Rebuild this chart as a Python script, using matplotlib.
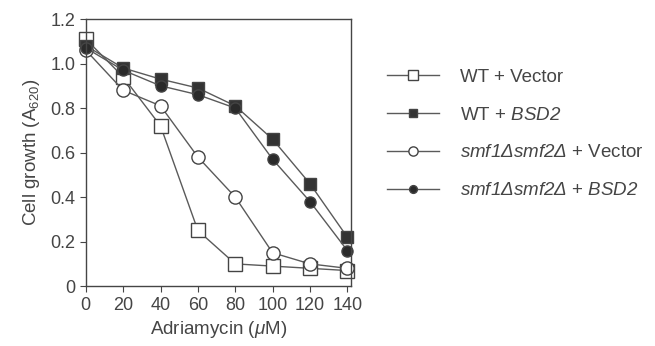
"""Cell growth vs adriamycin concentration for four strains."""

import matplotlib.pyplot as plt

plt.rcParams["font.family"] = ["Liberation Sans", "DejaVu Sans"]
plt.rcParams["mathtext.fontset"] = "custom"
plt.rcParams["mathtext.rm"] = "Liberation Sans:italic"
plt.rcParams["mathtext.it"] = "Liberation Sans:italic"
plt.rcParams["mathtext.sf"] = "Liberation Sans"

adriamycin = [0, 20, 40, 60, 80, 100, 120, 140]

wt_vector = [1.11, 0.94, 0.72, 0.25, 0.10, 0.09, 0.08, 0.07]
wt_bsd2 = [1.08, 0.98, 0.93, 0.89, 0.81, 0.66, 0.46, 0.22]
smf_vector = [1.06, 0.88, 0.81, 0.58, 0.40, 0.15, 0.10, 0.08]
smf_bsd2 = [1.07, 0.97, 0.90, 0.86, 0.80, 0.57, 0.38, 0.16]

labels = [
    "WT + Vector",
    r"WT + $\mathit{BSD2}$",
    r"$\mathit{smf1\Delta smf2\Delta}$ + Vector",
    r"$\mathit{smf1\Delta smf2\Delta}$ + $\mathit{BSD2}$",
]

ink = "#454545"
line_color = "#5a5a5a"

fig = plt.figure(figsize=(6.55, 3.46), dpi=100)
ax = fig.add_axes([0.131, 0.173, 0.405, 0.772])

series = [
    (wt_vector, "s", "white", 9.5),
    (wt_bsd2, "s", "#333333", 8.5),
    (smf_vector, "o", "white", 9.5),
    (smf_bsd2, "o", "#2a2a2a", 8),
]
for values, marker, face, size in series:
    ax.plot(
        adriamycin,
        values,
        marker=marker,
        markersize=size,
        markerfacecolor=face,
        markeredgecolor="#444444",
        markeredgewidth=1.0,
        color=line_color,
        linewidth=1.0,
        clip_on=False,
    )

ax.set_xlim(0, 142)
ax.set_ylim(0, 1.2)
ax.set_xticks(range(0, 141, 20))
ax.set_yticks([0, 0.2, 0.4, 0.6, 0.8, 1.0, 1.2])
ax.set_yticklabels(["0", "0.2", "0.4", "0.6", "0.8", "1.0", "1.2"])
ax.tick_params(direction="out", length=4, color=ink, labelcolor=ink, labelsize=13)
for spine in ax.spines.values():
    spine.set_color(ink)
    spine.set_linewidth(1.0)

ax.set_xlabel(r"Adriamycin ($\mu$M)", color=ink, fontsize=13.5, labelpad=4)
ax.set_ylabel(r"Cell growth (A$_{\mathsf{620}}$)", color=ink, fontsize=13.5, labelpad=6)

handles = ax.get_lines()
fig.legend(
    handles,
    labels,
    loc="upper left",
    bbox_to_anchor=(0.565, 0.85),
    frameon=False,
    handlelength=2.8,
    handletextpad=1.1,
    labelspacing=1.1,
    fontsize=13.5,
    labelcolor=ink,
    markerscale=0.7,
)

fig.savefig("out.png", dpi=100)
